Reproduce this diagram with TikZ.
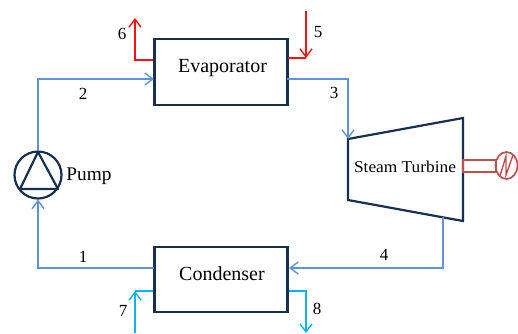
\documentclass[tikz,border=0pt]{standalone}
\usepackage{fontspec}
\setmainfont{Liberation Serif}
\usetikzlibrary{arrows.meta,shapes.geometric}
\definecolor{darkline}{HTML}{17304F}
\definecolor{flowblue}{HTML}{5F92DC}
\definecolor{flowred}{HTML}{FF1010}
\definecolor{flowcyan}{HTML}{12B0F0}
\definecolor{genred}{HTML}{C0504D}
\tikzset{
  x=1pt,y=-1pt,
  equip/.style={draw=darkline,line width=2.2pt,fill=white,minimum width=133pt,inner sep=0pt},
  equiptext/.style={font=\fontsize{20}{22}\selectfont,inner sep=0pt},
  tip/.style={-{Straight Barb[length=8pt,width=12pt,line width=1.4pt]}},
  blueflow/.style={draw=flowblue,line width=1.5pt,tip},
  redflow/.style={draw=flowred,line width=1.8pt,tip},
  cyanflow/.style={draw=flowcyan,line width=1.6pt,tip},
  num/.style={font=\fontsize{17}{20}\selectfont,inner sep=0pt},
  gen/.style={draw=genred,line width=1.7pt}
}
\begin{document}
\begin{tikzpicture}
\useasboundingbox (0,0) rectangle (518,333);
\clip (0,0) rectangle (518,333);
% equipment
\node[equip,minimum height=66pt] (evap) at (221,72) {};
\node[equiptext] (evaptext) at (222.5,68) {Evaporator};
\node[equip,minimum height=65pt] (cond) at (221,279.5) {};
\node[equiptext] (condtext) at (222,273.5) {Condenser};
\node[draw=darkline,line width=2.2pt,circle,minimum size=47pt,inner sep=0pt] (pump) at (38,175) {};
\coordinate (ptop) at (38,152);
\coordinate (pleft) at (20,189);
\coordinate (pright) at (58,189);
\draw[darkline,line width=2.2pt,line join=round] (ptop) -- (pleft) -- (pright) -- cycle;
\node[font=\fontsize{19.3}{22}\selectfont,inner sep=0pt] (pumplabel) at (89,176) {Pump};
\coordinate (tl) at (348,139);
\coordinate (tr) at (463,118);
\coordinate (br) at (463,221);
\coordinate (bl) at (348,200);
\draw[darkline,line width=2.2pt,line join=miter] (tl) -- (tr) -- (br) -- (bl) -- cycle;
\node[font=\fontsize{16.5}{20}\selectfont,inner sep=0pt,xscale=1.05] (turb) at (405,166.5) {Steam Turbine};
% generator
\node[gen,minimum width=33pt,minimum height=12pt,inner sep=0pt] (shaft) at (479.5,166) {};
\node[gen,ellipse,minimum width=22pt,minimum height=27pt,inner sep=0pt] (genr) at (506.5,165.5) {};
\coordinate (g1) at (500,176);
\coordinate (g2) at (506,156);
\coordinate (g3) at (506,175);
\coordinate (g4) at (513,155);
\draw[gen,line width=1.4pt] (g1) -- (g2) -- (g3) -- (g4);
% water / steam loop
\coordinate (c2a) at (38,79);
\coordinate (e3a) at (287,79);
\coordinate (e2) at (154,79);
\coordinate (t3b) at (348,79);
\coordinate (c1a) at (154,268);
\coordinate (c1b) at (38,268);
\coordinate (p1) at (38,199.5);
\coordinate (t4a) at (443,217);
\coordinate (t4b) at (443,268);
\coordinate (c4) at (289,268);
\draw[blueflow] (pump.north) -- (c2a) -- (e2);
\draw[blueflow] (e3a) -- (t3b) -- (tl);
\draw[blueflow] (c1a) -- (c1b) -- (p1);
\draw[blueflow] (t4a) -- (t4b) -- (c4);
% heat source
\coordinate (r6a) at (153,60);
\coordinate (r6b) at (135,60);
\coordinate (r6c) at (135,18);
\coordinate (r5a) at (306,11);
\coordinate (r5b) at (306,58);
\coordinate (r5c) at (288,58);
\draw[redflow] (r6a) -- (r6b) -- (r6c);
\draw[redflow] (r5a) -- (r5b);
\draw[flowred,line width=1.8pt] (r5c) -- (r5b);
% cooling water
\coordinate (c7a) at (135,333);
\coordinate (c7b) at (135,291);
\coordinate (c7c) at (153,291);
\coordinate (c8a) at (289,291);
\coordinate (c8b) at (306,291);
\coordinate (c8c) at (306,333);
\draw[cyanflow] (c7a) -- (c7b);
\draw[flowcyan,line width=1.6pt] (c7b) -- (c7c);
\draw[cyanflow] (c8a) -- (c8b) -- (c8c);
% labels
\node[num] (n6) at (122,34) {6};
\node[num] (n5) at (318,32) {5};
\node[num] (n2) at (83,94) {2};
\node[num] (n3) at (334,93) {3};
\node[num] (n1) at (83,257) {1};
\node[num] (n4) at (384,255) {4};
\node[num] (n7) at (123,311) {7};
\node[num] (n8) at (317,309) {8};
\end{tikzpicture}
\end{document}
